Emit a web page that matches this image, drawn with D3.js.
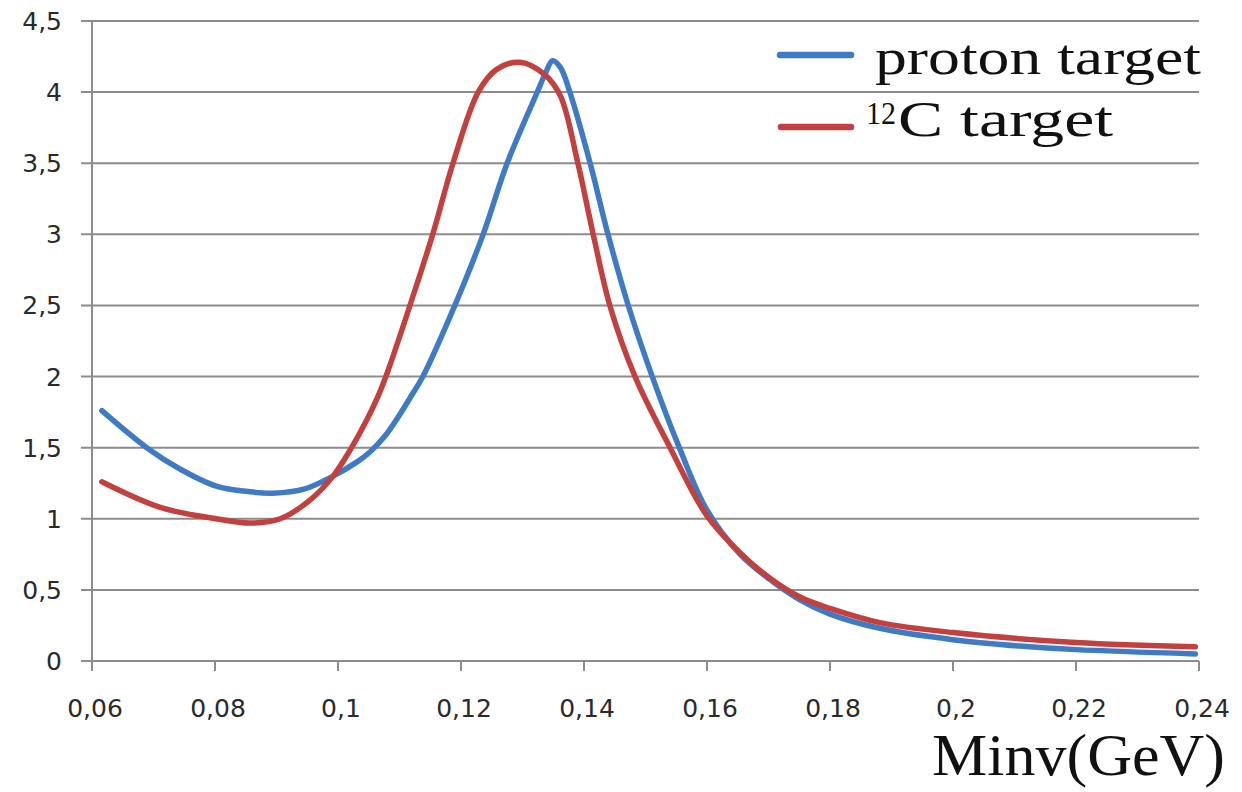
<!DOCTYPE html>
<html><head><meta charset="utf-8">
<script src="https://cdn.jsdelivr.net/npm/d3@7"></script>
<style>body{margin:0;background:#fff}svg{display:block}</style>
</head><body>
<svg id="c" width="1242" height="792"></svg>
<script>
const xTicks = [0.06,0.08,0.10,0.12,0.14,0.16,0.18,0.20,0.22,0.24];
const yTicks = [0,0.5,1,1.5,2,2.5,3,3.5,4,4.5];
const seriesNames = ["proton target","12C target"];
const protonX = [0.0616,0.0689,0.0743,0.0802,0.0857,0.0894,0.0946,0.0992,0.1031,0.1052,0.1076,0.1100,0.1120,0.1138,0.1190,0.1236,0.1275,0.1324,0.1337,0.1349,0.1362,0.1377,0.1410,0.1439,0.1472,0.1511,0.1555,0.1600,0.1654,0.1703,0.1751,0.1800,0.1881,0.2000,0.2109,0.2200,0.2394];
const protonY = [1.76,1.50,1.35,1.23,1.19,1.18,1.21,1.30,1.40,1.47,1.58,1.73,1.87,2.00,2.50,3.00,3.50,4.00,4.13,4.22,4.17,4.00,3.50,3.00,2.50,2.00,1.50,1.06,0.75,0.57,0.43,0.33,0.23,0.15,0.105,0.08,0.05];
const carbonX = [0.0616,0.0711,0.0802,0.0857,0.0906,0.0954,0.0992,0.1022,0.1045,0.1065,0.1082,0.1117,0.1154,0.1187,0.1228,0.1258,0.1296,0.1337,0.1362,0.1390,0.1415,0.1442,0.1483,0.1540,0.1600,0.1654,0.1703,0.1751,0.1800,0.1881,0.2000,0.2200,0.2394];
const carbonY = [1.26,1.08,1.00,0.97,1.00,1.13,1.30,1.50,1.68,1.86,2.05,2.50,3.00,3.50,4.00,4.16,4.21,4.12,3.97,3.50,3.00,2.50,2.00,1.50,1.02,0.76,0.58,0.45,0.37,0.27,0.20,0.13,0.10];

const svg = d3.select("#c");
const L=92, R=1199, T=21, B=661;
const x = d3.scaleLinear().domain([0.06,0.24]).range([L,R]);
const y = d3.scaleLinear().domain([0,4.5]).range([B,T]);
const fmt = d => String(+d.toFixed(2)).replace(".",",");
const grid = "#8c8c8c";
const sans = "'DejaVu Sans', Verdana, sans-serif";

svg.append("g").selectAll("line").data(yTicks).join("line")
  .attr("x1",L-11).attr("x2",R).attr("y1",d=>y(d)).attr("y2",d=>y(d))
  .attr("stroke",grid).attr("stroke-width",2);
svg.append("line").attr("x1",L).attr("x2",L).attr("y1",T).attr("y2",B+10)
  .attr("stroke",grid).attr("stroke-width",2);
svg.append("g").selectAll("line").data(xTicks).join("line")
  .attr("x1",d=>x(d)).attr("x2",d=>x(d)).attr("y1",B).attr("y2",B+10)
  .attr("stroke",grid).attr("stroke-width",2);

svg.append("g").selectAll("text").data(yTicks).join("text")
  .attr("x",62).attr("y",d=>y(d)+9).attr("text-anchor","end")
  .attr("font-family",sans).attr("font-size",25)
  .attr("fill","#2a2a2a").text(fmt);
svg.append("g").selectAll("text").data(xTicks).join("text")
  .attr("x",d=>x(d)+3).attr("y",717).attr("text-anchor","middle")
  .attr("font-family",sans).attr("font-size",25)
  .attr("fill","#2a2a2a").text(fmt);

const line = d3.line().x(d=>x(d[0])).y(d=>y(d[1])).curve(d3.curveCatmullRom.alpha(0.5));
const pData = protonX.map((v,i)=>[v,protonY[i]]);
const cData = carbonX.map((v,i)=>[v,carbonY[i]]);
svg.append("path").datum(pData).attr("d",line).attr("fill","none")
  .attr("stroke","#3f7bc4").attr("stroke-width",5.5).attr("stroke-linecap","round");
svg.append("path").datum(cData).attr("d",line).attr("fill","none")
  .attr("stroke","#c2403e").attr("stroke-width",5.5).attr("stroke-linecap","round");

// legend
const serif = "'Liberation Serif', 'Times New Roman', serif";
svg.append("line").attr("x1",780).attr("x2",851).attr("y1",55).attr("y2",55)
  .attr("stroke","#3f7bc4").attr("stroke-width",6.5).attr("stroke-linecap","round");
svg.append("text").attr("x",875).attr("y",74).attr("font-family",serif)
  .attr("font-size",50).attr("fill","#111")
  .attr("textLength",326).attr("lengthAdjust","spacingAndGlyphs").text(seriesNames[0]);
svg.append("line").attr("x1",781).attr("x2",851).attr("y1",127).attr("y2",127)
  .attr("stroke","#c2403e").attr("stroke-width",6.5).attr("stroke-linecap","round");
svg.append("text").attr("x",866).attr("y",124).attr("font-family",serif)
  .attr("font-size",32).attr("fill","#111")
  .attr("textLength",30).attr("lengthAdjust","spacingAndGlyphs").text("12");
svg.append("text").attr("x",898).attr("y",136).attr("font-family",serif)
  .attr("font-size",50).attr("fill","#111")
  .attr("textLength",215).attr("lengthAdjust","spacingAndGlyphs").text("C target");

// x axis title
svg.append("text").attr("x",932).attr("y",775).attr("font-family",serif)
  .attr("font-size",60).attr("fill","#111")
  .attr("textLength",293).attr("lengthAdjust","spacingAndGlyphs").text("Minv(GeV)");
</script>
</body></html>
